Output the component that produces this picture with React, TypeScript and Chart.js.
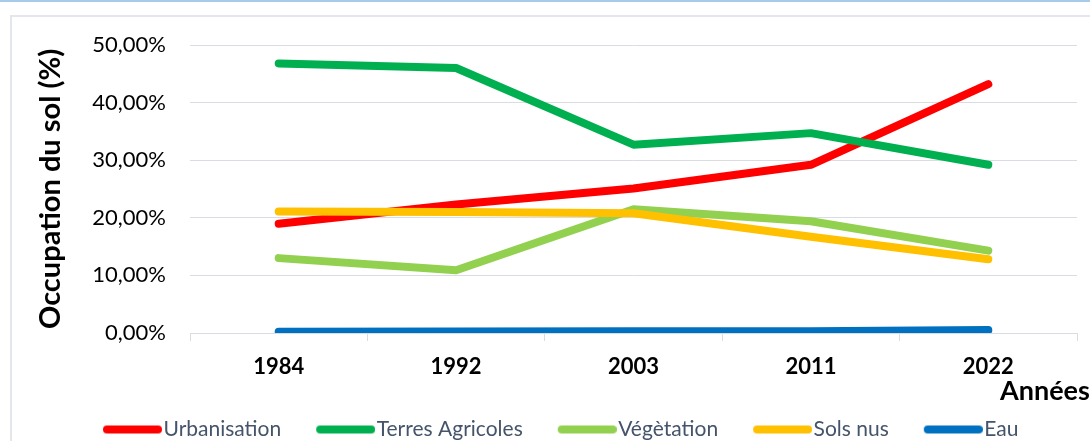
import React, { useEffect, useRef } from "react";
import { Chart, registerables } from "chart.js";

Chart.register(...registerables);

const categories = ["1984", "1992", "2003", "2011", "2022"];
const urbanisation = [18.96, 22.3, 25.1, 29.2, 43.2];
const terresAgricoles = [46.8, 46.0, 32.7, 34.7, 29.2];
const vegetation = [13.0, 10.9, 21.5, 19.4, 14.3];
const solsNus = [21.1, 21.0, 20.8, 16.7, 12.8];
const eau = [0.2, 0.25, 0.3, 0.3, 0.5];

const seriesLabels = ["Urbanisation", "Terres Agricoles", "Végètation", "Sols nus", "Eau"];
const seriesColors = ["#FF0000", "#00B050", "#92D050", "#FFC000", "#0070C0"];
const yAxisTitle = "Occupation du sol (%)";
const xAxisTitle = "Années";

const FONT = "Lato";

function makeMarker(color: string) {
  const c = document.createElement("canvas");
  c.width = 95;
  c.height = 10;
  const ctx = c.getContext("2d")!;
  ctx.strokeStyle = color;
  ctx.lineWidth = 8;
  ctx.lineCap = "round";
  ctx.beginPath();
  ctx.moveTo(40, 5);
  ctx.lineTo(91, 5);
  ctx.stroke();
  return c;
}

export default function App() {
  const ref = useRef<HTMLCanvasElement>(null);

  useEffect(() => {
    const canvas = ref.current!;
    const markers = seriesColors.map(makeMarker);
    const values = [urbanisation, terresAgricoles, vegetation, solsNus, eau];

    const shiftLegend = {
      id: "shiftLegend",
      afterLayout(chart: any) {
        const lg = chart.legend;
        if (lg) {
          lg.left += 68;
          lg.right += 68;
          lg.top += 9;
          lg.bottom += 9;
        }
      },
    };

    const xTitle = {
      id: "xTitle",
      afterDraw(chart: any) {
        const { ctx, chartArea } = chart;
        ctx.save();
        ctx.font = `bold 27px ${FONT}`;
        ctx.fillStyle = "#000";
        ctx.textAlign = "left";
        ctx.textBaseline = "alphabetic";
        ctx.fillText(xAxisTitle, chartArea.right - 77, chartArea.bottom + 67);
        ctx.restore();
      },
    };

    const chart = new Chart(canvas, {
      type: "line",
      data: {
        labels: categories,
        datasets: values.map((v, i) => ({
          label: seriesLabels[i],
          data: v,
          borderColor: seriesColors[i],
          backgroundColor: seriesColors[i],
          borderWidth: 8,
          borderCapStyle: "round",
          borderJoinStyle: "round",
          pointRadius: 0,
          pointHoverRadius: 0,
          fill: false,
          tension: 0,
          order: 5 - i,
        })),
      },
      options: {
        responsive: false,
        animation: false,
        layout: { padding: { top: 45, right: 13, bottom: 0, left: 0 } },
        plugins: {
          tooltip: { enabled: false },
          legend: {
            position: "bottom",
            align: "start",
            labels: {
              usePointStyle: true,
              pointStyleWidth: 77,
              padding: 8,
              color: "#44546A",
              font: { family: FONT, size: 21 },
              generateLabels: (ch: any) =>
                ch.data.datasets.map((ds: any, i: number) => ({
                  text: ds.label,
                  pointStyle: markers[i],
                  fillStyle: ds.borderColor,
                  strokeStyle: ds.borderColor,
                  lineWidth: 0,
                  hidden: false,
                  datasetIndex: i,
                  fontColor: "#44546A",
                })),
            },
          },
        },
        scales: {
          x: {
            offset: true,
            afterFit: (s: any) => {
              s.height = 69;
            },
            grid: {
              offset: true,
              drawOnChartArea: false,
              drawTicks: true,
              tickLength: 8,
              color: "#D9DDE3",
            },
            border: { display: true, color: "#D9DDE3" },
            ticks: {
              padding: 13,
              color: "#000",
              font: { family: FONT, size: 22, weight: "bold" },
            },
          },
          y: {
            min: 0,
            max: 50,
            afterFit: (s: any) => {
              s.width = 190;
            },
            ticks: {
              stepSize: 10,
              padding: 24,
              color: "#000",
              font: { family: FONT, size: 22 },
              callback: (v: any) => Number(v).toFixed(2).replace(".", ",") + "%",
            },
            grid: { color: "#D9DDE3", drawTicks: false },
            border: { display: false },
            title: {
              display: true,
              text: yAxisTitle,
              color: "#000",
              font: { family: FONT, size: 29, weight: "bold" },
              padding: { top: 33, bottom: 0 },
            },
          },
        },
      },
      plugins: [shiftLegend, xTitle],
    } as any);

    return () => chart.destroy();
  }, []);

  return (
    <div
      style={{
        position: "fixed",
        left: 0,
        top: 0,
        width: 1090,
        height: 441,
        overflow: "hidden",
        background: "#fff",
      }}
    >
      <div style={{ position: "absolute", left: 0, top: 0, width: 1090, height: 2, background: "#A8CBEB" }} />
      <div
        style={{
          position: "absolute",
          left: 10,
          top: 15,
          width: 1200,
          height: 600,
          border: "2px solid #E3E7EC",
        }}
      />
      <canvas ref={ref} width={1090} height={441} style={{ position: "absolute", left: 0, top: 0 }} />
    </div>
  );
}
